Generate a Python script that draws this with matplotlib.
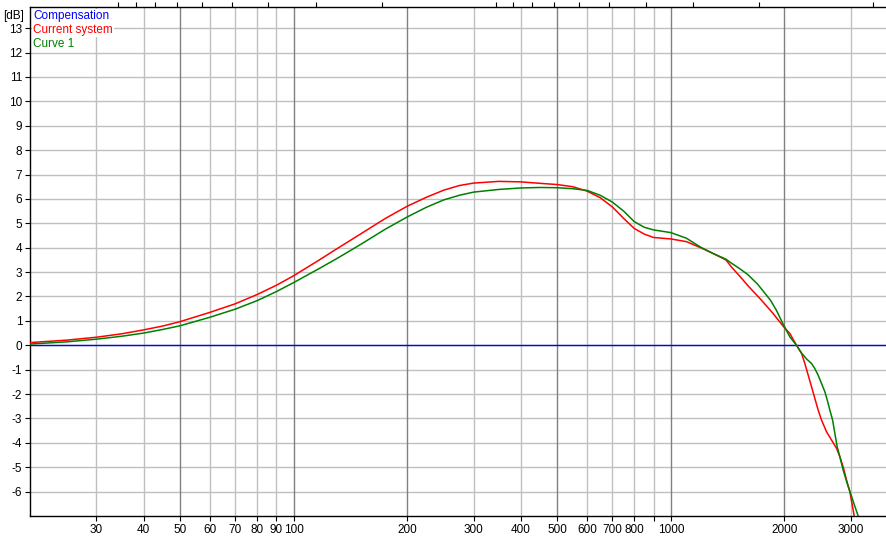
import matplotlib
matplotlib.use('Agg')
import matplotlib.pyplot as plt
from matplotlib.ticker import NullLocator

plt.rcParams['font.family'] = ['Liberation Sans', 'DejaVu Sans']

# measured curves (Hz, dB)
freq_cur = [20, 25, 30, 35, 40, 45, 50, 60, 70, 80, 90, 100, 117, 130, 150, 175,
            200, 225, 250, 275, 300, 350, 400, 450, 500, 550, 600, 650, 700, 750,
            800, 850, 900, 1000, 1100, 1200, 1300, 1400, 1450, 1520, 1600, 1741,
            1868, 1986, 2069, 2154, 2222, 2267, 2314, 2362, 2410, 2459, 2510, 2588,
            2669, 2752, 2808, 2864, 2924, 2984, 3064]
db_cur = [0.11, 0.21, 0.33, 0.47, 0.63, 0.79, 0.97, 1.35, 1.70, 2.08, 2.46, 2.85,
          3.50, 3.95, 4.55, 5.20, 5.70, 6.07, 6.36, 6.55, 6.65, 6.72, 6.70, 6.64,
          6.59, 6.50, 6.32, 6.05, 5.67, 5.20, 4.79, 4.56, 4.42, 4.36, 4.25, 4.00,
          3.75, 3.50, 3.20, 2.85, 2.45, 1.84, 1.30, 0.78, 0.48, 0.00, -0.34, -0.75,
          -1.23, -1.71, -2.19, -2.66, -3.07, -3.55, -3.89, -4.23, -4.58, -4.99,
          -5.53, -6.01, -7.0]

freq_c1 = [20, 25, 30, 35, 40, 45, 50, 60, 70, 80, 90, 100, 117, 130, 150, 175,
           200, 225, 250, 275, 300, 350, 400, 450, 500, 550, 600, 650, 700, 750,
           800, 850, 900, 1000, 1100, 1200, 1300, 1400, 1450, 1520, 1600, 1700,
           1839, 1906, 1986, 2069, 2154, 2222, 2290, 2362, 2410, 2459, 2510, 2562,
           2599, 2641, 2685, 2723, 2762, 2808, 2864, 2936, 2997, 3058, 3139]
db_c1 = [0.05, 0.14, 0.25, 0.37, 0.50, 0.65, 0.80, 1.15, 1.48, 1.83, 2.20, 2.57,
         3.15, 3.55, 4.12, 4.76, 5.26, 5.66, 5.96, 6.15, 6.28, 6.39, 6.45, 6.47,
         6.46, 6.42, 6.35, 6.15, 5.87, 5.50, 5.07, 4.84, 4.73, 4.62, 4.39, 4.02,
         3.75, 3.53, 3.36, 3.15, 2.90, 2.50, 1.84, 1.43, 0.86, 0.34, 0.00, -0.32,
         -0.56, -0.75, -0.96, -1.23, -1.57, -1.91, -2.25, -2.66, -3.07, -3.62,
         -4.17, -4.58, -5.12, -5.67, -6.08, -6.49, -7.0]

freq_comp = [20, 3720]
db_comp = [0, 0]

xtick_pos = [30, 40, 50, 60, 70, 80, 90, 100, 200, 300, 400, 500, 600, 700, 800,
             900, 1000, 2000, 3000]
xtick_lab = ['30', '40', '50', '60', '70', '80', '90', '100', '200', '300', '400',
             '500', '600', '700', '800', '', '1000', '2000', '3000']
grid_dark = [50, 100, 200, 500, 1000, 2000]
grid_light = [30, 40, 60, 70, 80, 90, 300, 400, 600, 700, 800, 900, 3000]
ytick_pos = list(range(-6, 14))
# top scale: wavelength in m (c = 343 m/s)
wavelen = [0.1, 0.2, 0.3, 0.4, 0.5, 0.6, 0.7, 0.8, 0.9, 1, 2, 3, 4, 5, 6, 7, 8, 9, 10]

fig = plt.figure(figsize=(8.87, 5.41), dpi=100)
ax = fig.add_axes([30/887, 25/541, 856/887, 509/541])
ax.set_xscale('log')
ax.set_xlim(20, 3720)
ax.set_ylim(-7, 13.87)

for y in ytick_pos:
    ax.axhline(y, color='#c0c0c0', lw=1, zorder=1)
for f in grid_light:
    ax.axvline(f, color='#c0c0c0', lw=1, zorder=1)
for f in grid_dark:
    ax.axvline(f, color='#808080', lw=1, zorder=1)

ax.plot(freq_comp, db_comp, color='#0000ff', lw=1.0, zorder=3)
ax.plot(freq_cur, db_cur, color='#ff0000', lw=1.1, zorder=4)
ax.plot(freq_c1, db_c1, color='#008000', lw=1.1, zorder=5)

ax.xaxis.set_minor_locator(NullLocator())
ax.set_xticks(xtick_pos)
ax.set_xticklabels(xtick_lab)
ax.set_yticks(ytick_pos)
ax.set_yticklabels([str(v) for v in ytick_pos])
ax.tick_params(axis='both', direction='out', length=3.6, width=0.8,
               labelsize=8.5, pad=2, colors='black')

ax.spines['right'].set_visible(False)
ax.spines['top'].set_visible(False)
for s in ['left', 'bottom']:
    ax.spines[s].set_linewidth(1)

ax2 = ax.twiny()
ax2.set_xscale('log')
ax2.set_xlim(ax.get_xlim())
ax2.xaxis.set_minor_locator(NullLocator())
ax2.set_xticks([343.0 / w for w in wavelen])
ax2.set_xticklabels([])
ax2.tick_params(axis='x', direction='out', length=3.6, width=0.8)
ax2.spines['right'].set_visible(False)
ax2.spines['left'].set_visible(False)
ax2.spines['bottom'].set_visible(False)
ax2.spines['top'].set_linewidth(1)

fig.text(3/887, 1 - 16/541, '[dB]', fontsize=8.5, va='center', ha='left')
leg = [('Compensation', '#0000ff', 16), ('Current system', '#ff0000', 30),
       ('Curve 1', '#008000', 44)]
for name, col, ypx in leg:
    fig.text(33/887, 1 - ypx/541, name, color=col, fontsize=8.5, va='center',
             ha='left', bbox=dict(facecolor='white', edgecolor='none', pad=0.6))

fig.savefig('out.png', dpi=100)
